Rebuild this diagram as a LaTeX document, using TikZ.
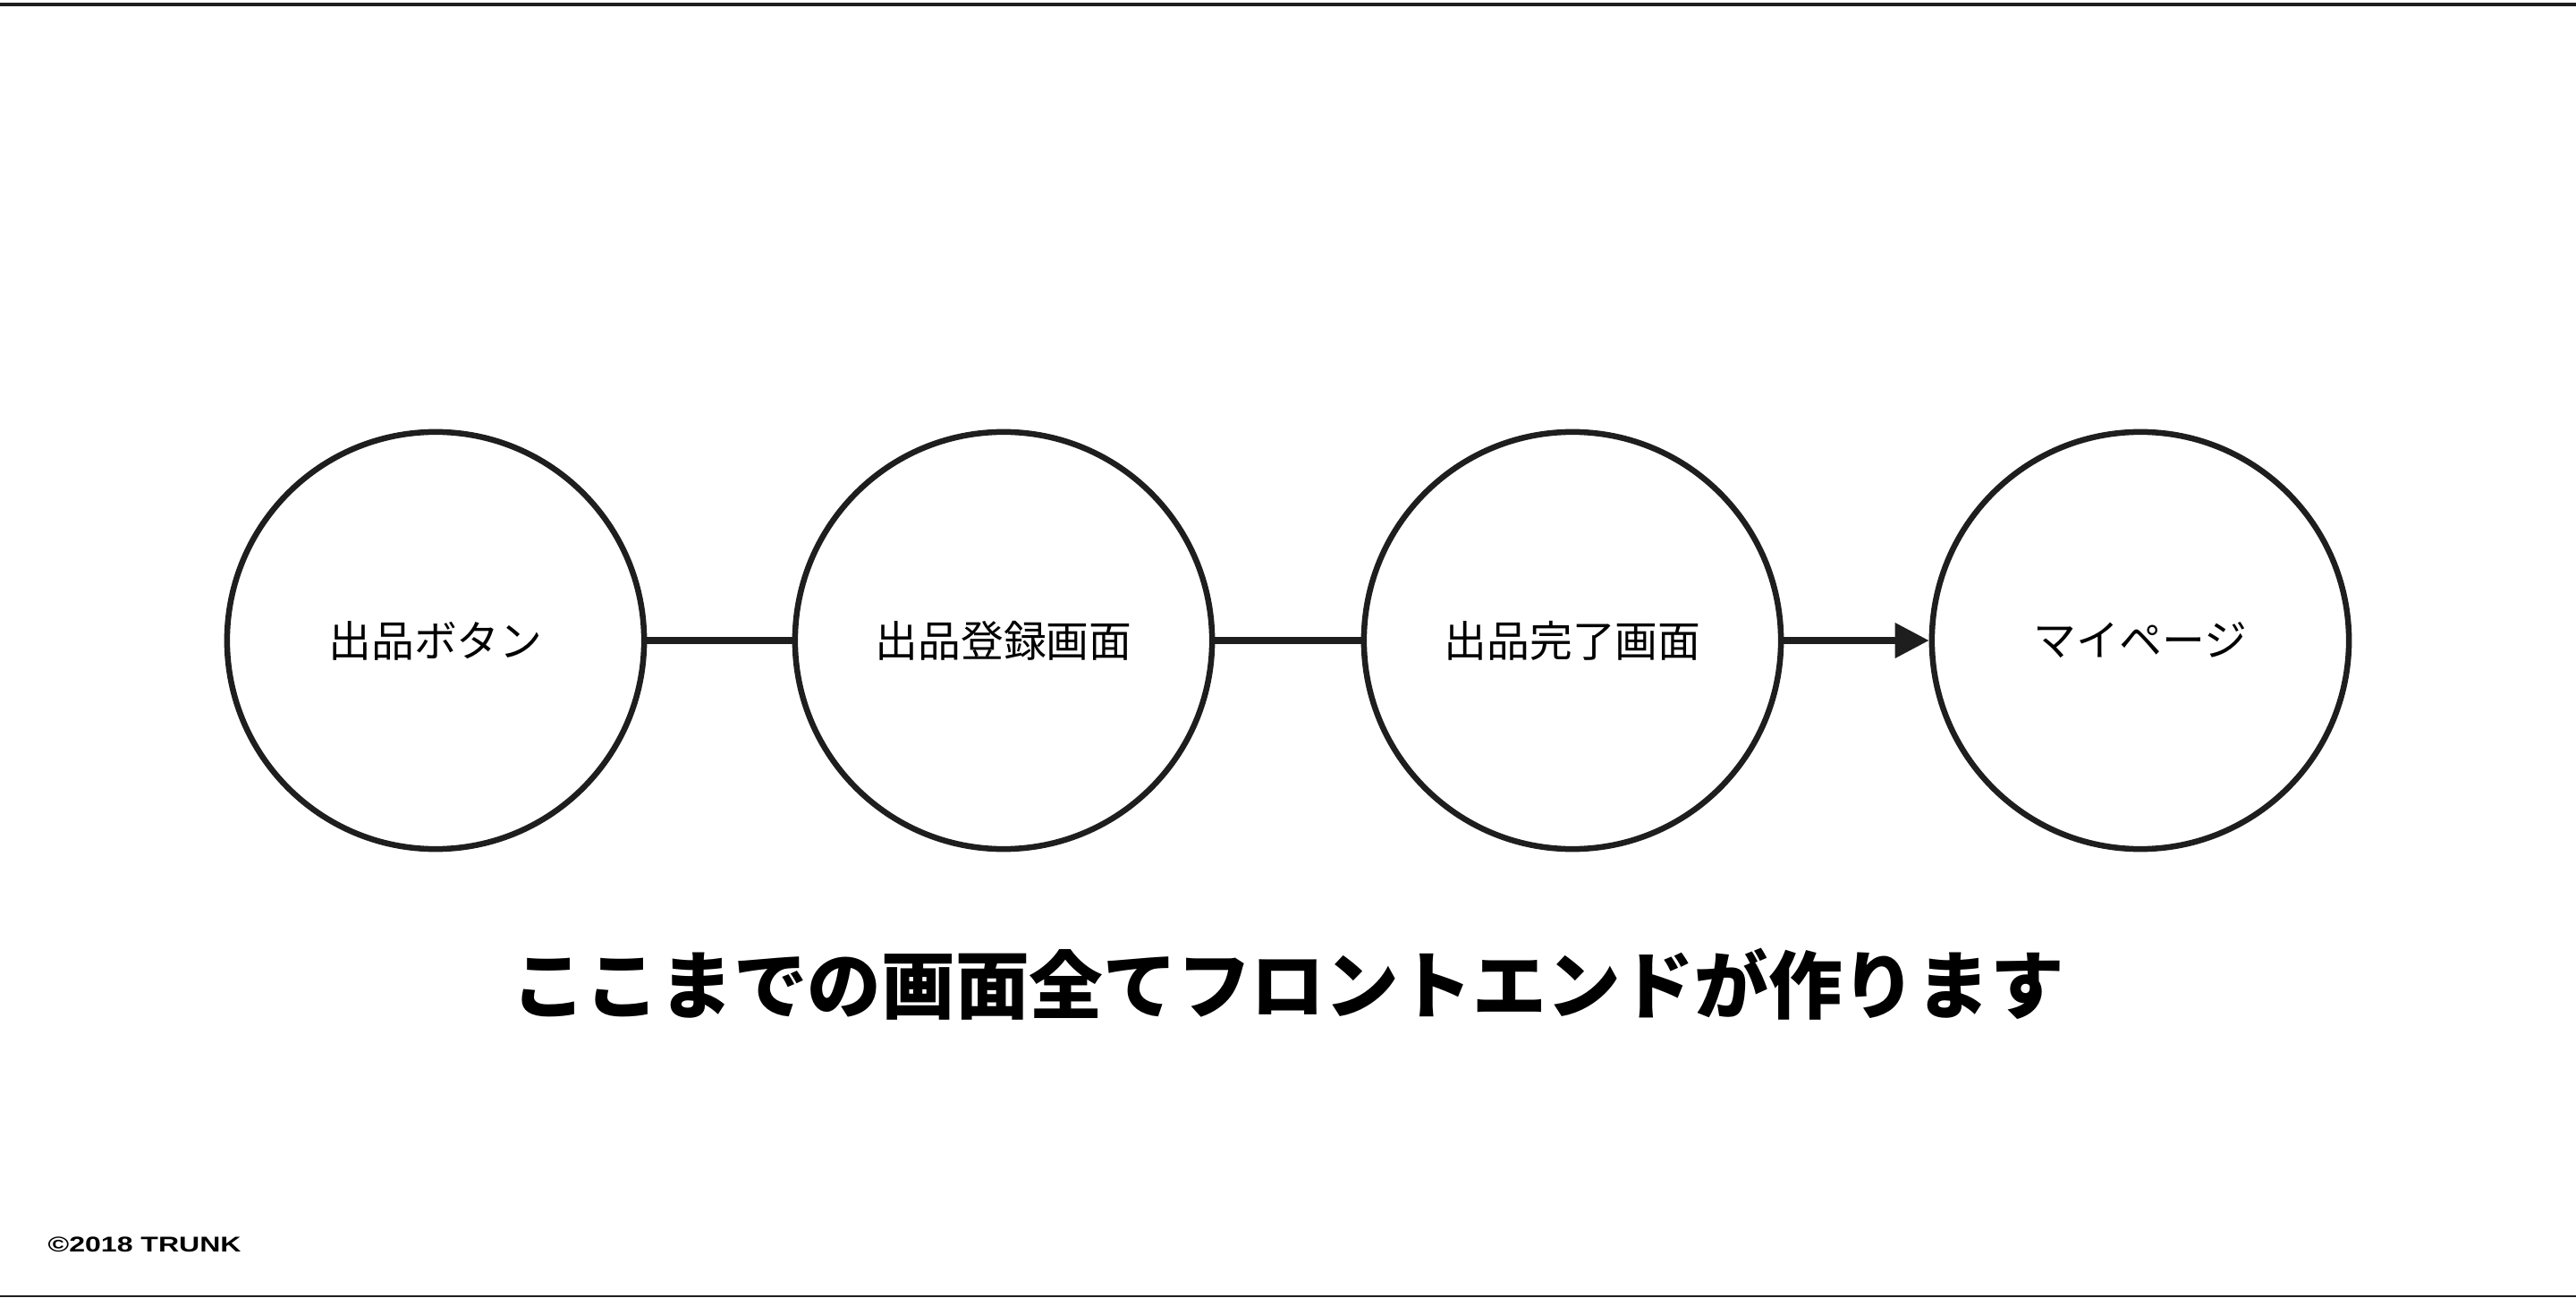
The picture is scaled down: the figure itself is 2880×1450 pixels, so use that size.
\documentclass[tikz,border=0pt]{standalone}
\usepackage{fontspec}
\setmainfont{Liberation Sans}
\newfontfamily\cjk{Noto Sans CJK JP}
\newfontfamily\markfont[FakeStretch=1.34]{Liberation Sans}
\usetikzlibrary{arrows.meta,positioning}
\definecolor{ink}{HTML}{1E1E1E}
\tikzset{
  screen/.style={circle,draw=ink,line width=0.065cm,minimum size=4.66cm,
    inner sep=0pt,font=\cjk\fontsize{13.6}{15}\selectfont},
  link/.style={draw=ink,line width=0.07cm},
}
\begin{document}
\begin{tikzpicture}[x=0.01cm,y=0.01cm]
  \useasboundingbox (0,0) rectangle (2880,1450);
  % frame lines
  \fill[ink] (0,1443) rectangle (2880,1447);
  \fill[ink] (0,0) rectangle (2880,2.5);
  % screens
  \node[screen] (button) at (487,734) {出品ボタン};
  \node[screen] (entry) at (1122,734) {出品登録画面};
  \node[screen] (done) at (1758,734) {出品完了画面};
  \node[screen] (mypage) at (2393,734) {マイページ};
  \draw[link] (button) -- (entry);
  \draw[link] (entry) -- (done);
  \draw[link,-{Triangle[length=0.38cm,width=0.38cm]}] (done) -- (mypage);
  \node[font=\cjk\bfseries\fontsize{23.5}{27}\selectfont] (caption) at (1440,350)
    {ここまでの画面全てフロントエンドが作ります};
  \node[font=\markfont\bfseries\fontsize{6.8}{8}\selectfont,anchor=west,inner sep=0pt]
    (mark) at (53,59) {©2018 TRUNK};
\end{tikzpicture}
\end{document}
